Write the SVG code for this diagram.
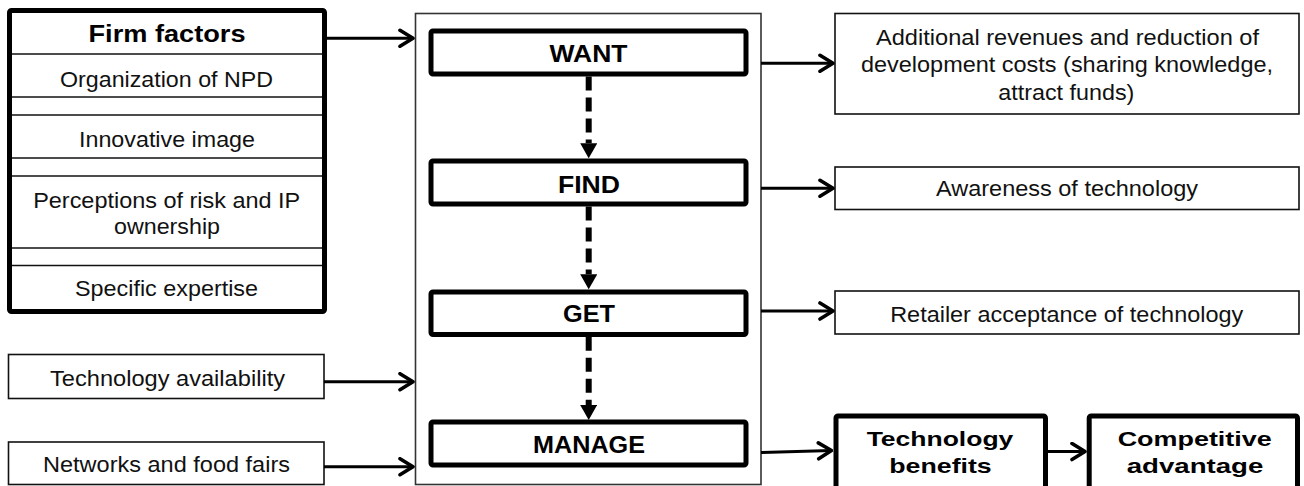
<svg xmlns="http://www.w3.org/2000/svg" width="1304" height="486" viewBox="0 0 1304 486">
<defs>
<style>
.bg{fill:#fff}
.thin{fill:#fff;stroke:#111;stroke-width:1.6}
.thick{fill:#fff;stroke:#000;stroke-width:5;stroke-linejoin:round}
.div{stroke:#111;stroke-width:1.6}
.t{font-family:"Liberation Sans",Arial,sans-serif;font-size:22px;fill:#111;text-anchor:middle}
.b{font-family:"Liberation Sans",Arial,sans-serif;font-size:23px;font-weight:bold;fill:#000;text-anchor:middle}
.b2{font-family:"Liberation Sans",Arial,sans-serif;font-size:21px;font-weight:bold;fill:#000;text-anchor:middle}
.conn{stroke:#000;stroke-width:3;fill:none}
.dash{stroke:#000;stroke-width:6;fill:none;stroke-dasharray:14 7}
</style>
<marker id="open" viewBox="0 0 18 20" refX="16" refY="10" markerWidth="18" markerHeight="20" markerUnits="userSpaceOnUse" orient="auto">
<path d="M3,2 L16,10 L3,18" fill="none" stroke="#000" stroke-width="3.6" stroke-linecap="round" stroke-linejoin="round"/>
</marker>
<marker id="tri" viewBox="0 0 15 17" refX="0" refY="8.5" markerWidth="15" markerHeight="17" markerUnits="userSpaceOnUse" orient="auto">
<path d="M0,0 L15,8.5 L0,17 Z" fill="#000"/>
</marker>
</defs>
<rect class="bg" x="0" y="0" width="1304" height="486"/>

<g id="firm-factors">
<rect class="thick" x="9.5" y="10.5" width="315" height="301" rx="2"/>
<line class="div" x1="12" y1="54" x2="322" y2="54"/>
<line class="div" x1="12" y1="97" x2="322" y2="97"/>
<line class="div" x1="12" y1="115" x2="322" y2="115"/>
<line class="div" x1="12" y1="158" x2="322" y2="158"/>
<line class="div" x1="12" y1="176" x2="322" y2="176"/>
<line class="div" x1="12" y1="248" x2="322" y2="248"/>
<line class="div" x1="12" y1="265.5" x2="322" y2="265.5"/>
<text class="b" x="167" y="42" textLength="157" lengthAdjust="spacingAndGlyphs">Firm factors</text>
<text class="t" x="166.5" y="86.5" textLength="213" lengthAdjust="spacingAndGlyphs">Organization of NPD</text>
<text class="t" x="167" y="146.5" textLength="176" lengthAdjust="spacingAndGlyphs">Innovative image</text>
<text class="t" x="166.7" y="207.5" textLength="267" lengthAdjust="spacingAndGlyphs">Perceptions of risk and IP</text>
<text class="t" x="167" y="233.5" textLength="106" lengthAdjust="spacingAndGlyphs">ownership</text>
<text class="t" x="166.5" y="296" textLength="183" lengthAdjust="spacingAndGlyphs">Specific expertise</text>
</g>

<g id="technology-availability">
<rect class="thin" x="8.5" y="354.5" width="315.5" height="44"/>
<text class="t" x="167.5" y="385.5" textLength="235" lengthAdjust="spacingAndGlyphs">Technology availability</text>
</g>

<g id="networks">
<rect class="thin" x="8.5" y="442" width="315.5" height="42.5"/>
<text class="t" x="166.5" y="471.5" textLength="247" lengthAdjust="spacingAndGlyphs">Networks and food fairs</text>
</g>

<g id="process">
<rect fill="#fff" stroke="#333" stroke-width="1.6" x="415.5" y="13.5" width="345.5" height="471"/>
</g>

<g id="want">
<rect class="thick" x="431" y="31" width="315" height="43" rx="2"/>
<text class="b" x="588.5" y="61.7" textLength="78" lengthAdjust="spacingAndGlyphs">WANT</text>
</g>
<g id="find">
<rect class="thick" x="431" y="161" width="315" height="43" rx="2"/>
<text class="b" x="589" y="192.7" textLength="62" lengthAdjust="spacingAndGlyphs">FIND</text>
</g>
<g id="get">
<rect class="thick" x="431" y="292" width="315" height="42.5" rx="2"/>
<text class="b" x="589" y="321.7" textLength="52" lengthAdjust="spacingAndGlyphs">GET</text>
</g>
<g id="manage">
<rect class="thick" x="431" y="422" width="315" height="43" rx="2"/>
<text class="b" x="589" y="452.7" textLength="112" lengthAdjust="spacingAndGlyphs">MANAGE</text>
</g>

<g id="revenues">
<rect class="thin" x="835" y="13.5" width="464" height="100.5"/>
<text class="t" x="1067.5" y="45" textLength="383" lengthAdjust="spacingAndGlyphs">Additional revenues and reduction of</text>
<text class="t" x="1067" y="72.3" textLength="412" lengthAdjust="spacingAndGlyphs">development costs (sharing knowledge,</text>
<text class="t" x="1066.3" y="99.8" textLength="136" lengthAdjust="spacingAndGlyphs">attract funds)</text>
</g>
<g id="awareness">
<rect class="thin" x="835" y="167" width="464" height="42.5"/>
<text class="t" x="1067" y="196" textLength="262" lengthAdjust="spacingAndGlyphs">Awareness of technology</text>
</g>
<g id="retailer">
<rect class="thin" x="835" y="291" width="464" height="43"/>
<text class="t" x="1066.7" y="322.3" textLength="353" lengthAdjust="spacingAndGlyphs">Retailer acceptance of technology</text>
</g>
<g id="technology-benefits">
<rect class="thick" x="836" y="416" width="209.5" height="80" rx="2"/>
<text class="b2" x="940" y="446" textLength="146.7" lengthAdjust="spacingAndGlyphs">Technology</text>
<text class="b2" x="940.5" y="473.3" textLength="102.4" lengthAdjust="spacingAndGlyphs">benefits</text>
</g>
<g id="competitive-advantage">
<rect class="thick" x="1089.2" y="416" width="208.3" height="80" rx="2"/>
<text class="b2" x="1194.7" y="446" textLength="154" lengthAdjust="spacingAndGlyphs">Competitive</text>
<text class="b2" x="1195" y="473.3" textLength="136.6" lengthAdjust="spacingAndGlyphs">advantage</text>
</g>

<g id="connectors">
<line class="conn" x1="324" y1="38.3" x2="413" y2="38.3" marker-end="url(#open)"/>
<line class="conn" x1="324" y1="381.7" x2="413" y2="381.7" marker-end="url(#open)"/>
<line class="conn" x1="324" y1="466.7" x2="413" y2="466.7" marker-end="url(#open)"/>
<line class="conn" x1="761" y1="63.3" x2="833" y2="63.3" marker-end="url(#open)"/>
<line class="conn" x1="761" y1="188.3" x2="833" y2="188.3" marker-end="url(#open)"/>
<line class="conn" x1="761" y1="311" x2="833" y2="311" marker-end="url(#open)"/>
<line class="conn" x1="761" y1="452.5" x2="831.5" y2="450.5" marker-end="url(#open)"/>
<line class="conn" x1="1048" y1="451.5" x2="1085" y2="451.5" marker-end="url(#open)"/>
<line class="dash" x1="588.7" y1="76.5" x2="588.7" y2="143.3" marker-end="url(#tri)"/>
<line class="dash" x1="588.7" y1="206.5" x2="588.7" y2="274.3" marker-end="url(#tri)"/>
<line class="dash" x1="588.7" y1="336.7" x2="588.7" y2="405" marker-end="url(#tri)"/>
</g>
</svg>
